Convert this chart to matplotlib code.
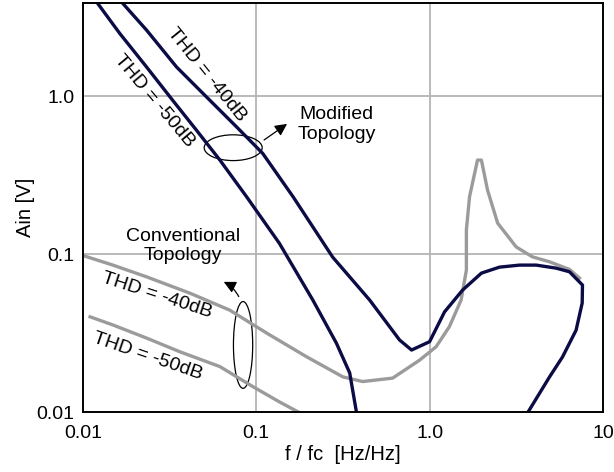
import numpy as np
import matplotlib.pyplot as plt
from matplotlib.patches import Ellipse

plt.rcParams['font.family'] = ['Liberation Sans', 'DejaVu Sans']

# modified topology, THD = -40dB (closes into a loop at high f)
mod40_f = [0.0167, 0.0233, 0.0347, 0.0516, 0.0769, 0.109, 0.163, 0.276, 0.451, 0.671,
           0.787, 1.0, 1.22, 1.55, 1.99, 2.53, 3.30, 4.12, 5.37, 6.41, 7.62, 7.59,
           7.0, 5.84, 4.92, 3.67]
mod40_a = [3.95, 2.62, 1.53, 0.99, 0.64, 0.434, 0.231, 0.0957, 0.0512, 0.0286,
           0.0247, 0.0279, 0.0431, 0.0592, 0.0758, 0.0827, 0.0852, 0.0852, 0.0815,
           0.0773, 0.0637, 0.0490, 0.0330, 0.0223, 0.0167, 0.00986]

# modified topology, THD = -50dB
mod50_f = [0.012, 0.0163, 0.0233, 0.033, 0.0452, 0.0617, 0.0879, 0.136, 0.212,
           0.290, 0.346, 0.379]
mod50_a = [3.95, 2.50, 1.53, 0.94, 0.609, 0.394, 0.231, 0.117, 0.0512, 0.0273,
           0.0177, 0.0099]

# conventional topology, THD = -40dB
conv40_f = [0.01, 0.0149, 0.0233, 0.0414, 0.0703, 0.115, 0.195, 0.316, 0.411, 0.612,
            0.875, 1.09, 1.30, 1.52, 1.63, 1.63, 1.70, 1.89, 1.99, 2.16, 2.47, 3.16,
            3.92, 4.92, 6.41, 7.32]
conv40_a = [0.098, 0.0852, 0.0718, 0.0566, 0.0442, 0.0316, 0.0224, 0.0167, 0.0156,
            0.0164, 0.0213, 0.0259, 0.0347, 0.0512, 0.0792, 0.142, 0.231, 0.394,
            0.394, 0.254, 0.157, 0.111, 0.0961, 0.0894, 0.080, 0.0705]

# conventional topology, THD = -50dB
conv50_f = [0.011, 0.0149, 0.0233, 0.0362, 0.0617, 0.0955, 0.136, 0.178]
conv50_a = [0.0401, 0.0356, 0.0294, 0.0241, 0.0194, 0.0145, 0.0116, 0.0099]

navy = '#0b0b45'
grey = '#9b9b9b'
fs = 14

fig = plt.figure(figsize=(6.14, 4.72), dpi=100)
ax = fig.add_axes([0.135, 0.127, 0.847, 0.867])

ax.plot(conv40_f, conv40_a, color=grey, lw=2.4, solid_joinstyle='round')
ax.plot(conv50_f, conv50_a, color=grey, lw=2.4, solid_joinstyle='round')
ax.plot(mod40_f, mod40_a, color=navy, lw=2.4, solid_joinstyle='round')
ax.plot(mod50_f, mod50_a, color=navy, lw=2.4, solid_joinstyle='round')

ax.set_xscale('log')
ax.set_yscale('log')
ax.set_xlim(0.01, 10)
ax.set_ylim(0.01, 3.9)
ax.set_xticks([0.01, 0.1, 1, 10])
ax.set_xticklabels(['0.01', '0.1', '1.0', '10'])
ax.set_yticks([0.01, 0.1, 1])
ax.set_yticklabels(['0.01', '0.1', '1.0'])
ax.minorticks_off()
ax.tick_params(length=0, labelsize=fs)
ax.tick_params(axis='x', pad=9)
ax.tick_params(axis='y', pad=6)
ax.grid(True, color='#b4b4b4', lw=1.3)
ax.set_axisbelow(True)
for s in ax.spines.values():
    s.set_linewidth(1.4)
    s.set_color('black')

ax.set_xlabel('f / fc  [Hz/Hz]', fontsize=fs + 0.5)
ax.set_ylabel('Ain [V]', fontsize=fs + 0.5)
ax.xaxis.set_label_coords(0.5, -0.081)
ax.yaxis.set_label_coords(-0.092, 0.5)

# curve labels
ax.text(0.2375, 0.824, 'THD = -40dB', transform=ax.transAxes, rotation=-51,
        ha='center', va='center', fontsize=fs)
ax.text(0.138, 0.759, 'THD = -50dB', transform=ax.transAxes, rotation=-50,
        ha='center', va='center', fontsize=fs)
ax.text(0.143, 0.286, 'THD = -40dB', transform=ax.transAxes, rotation=-18,
        ha='center', va='center', fontsize=fs)
ax.text(0.124, 0.137, 'THD = -50dB', transform=ax.transAxes, rotation=-19,
        ha='center', va='center', fontsize=fs)

# modified topology marker
ax.add_patch(Ellipse((0.289, 0.646), 0.1115, 0.063, transform=ax.transAxes,
                     fill=False, ec='black', lw=0.9))
ax.annotate('', xy=(0.397, 0.708), xytext=(0.344, 0.661), xycoords='axes fraction',
            arrowprops=dict(arrowstyle='-|>', color='black', lw=0.9,
                            mutation_scale=18))
ax.text(0.488, 0.702, 'Modified\nTopology', transform=ax.transAxes,
        ha='center', va='center', fontsize=fs, linespacing=1.2)

# conventional topology marker
ax.add_patch(Ellipse((0.308, 0.164), 0.037, 0.212, transform=ax.transAxes,
                     fill=False, ec='black', lw=0.9))
ax.annotate('', xy=(0.266, 0.321), xytext=(0.302, 0.276), xycoords='axes fraction',
            arrowprops=dict(arrowstyle='-|>', color='black', lw=0.9,
                            mutation_scale=18, connectionstyle='arc3,rad=0.2'))
ax.text(0.192, 0.406, 'Conventional\nTopology', transform=ax.transAxes,
        ha='center', va='center', fontsize=fs, linespacing=1.2)

fig.savefig('out.png', dpi=100)
